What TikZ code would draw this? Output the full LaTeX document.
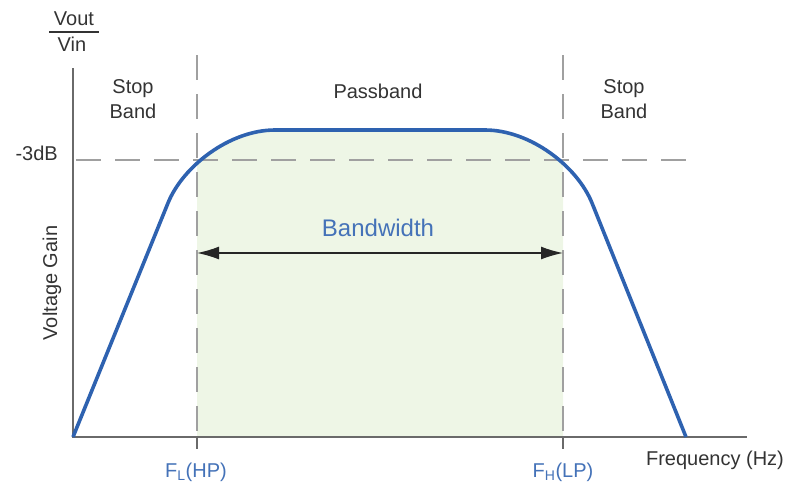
\documentclass[tikz,border=0pt]{standalone}
\usepackage{fontspec}
\setmainfont{Liberation Sans}
\usetikzlibrary{arrows.meta}
\definecolor{curveblue}{HTML}{2E62B0}
\definecolor{textblue}{HTML}{4472B8}
\definecolor{txt}{HTML}{333333}
\definecolor{axisgrey}{HTML}{6A6A6A}
\definecolor{dashgrey}{HTML}{A0A0A0}
\definecolor{passgreen}{HTML}{EEF6E6}
\tikzset{
  lbl/.style={font=\fontsize{20}{24}\selectfont, text=txt, inner sep=0pt},
  bluelbl/.style={font=\fontsize{20}{24}\selectfont, text=textblue, inner sep=0pt},
  guide/.style={draw=dashgrey, line width=1.4pt, dash pattern=on 25pt off 14pt},
  axisline/.style={draw=axisgrey, line width=1.5pt},
  response/.style={draw=curveblue, line width=3.6pt, line join=round},
}
\begin{document}
\begin{tikzpicture}[x=1pt,y=-1pt]
\useasboundingbox (0,0) rectangle (792,485);
% coordinates
\coordinate (O) at (73,437);
\coordinate (ytop) at (73,68);
\coordinate (xend) at (747,437);
\coordinate (fl) at (197,437);
\coordinate (fh) at (563,437);
\coordinate (fltop) at (197,55);
\coordinate (fhtop) at (563,55);
\coordinate (flbot) at (197,449);
\coordinate (fhbot) at (563,449);
\coordinate (dbl) at (73,160);
\coordinate (dbr) at (686,160);
\coordinate (bwl) at (197,253);
\coordinate (bwr) at (563,253);
% passband fill
\begin{scope}
\clip (197,0) rectangle (563,437);
\fill[passgreen] (73,437) -- (168,203) .. controls (183,166) and (230,130) .. (275,130) -- (485,130) .. controls (530,130) and (577,166) .. (592,203) -- (686,437) -- cycle;
\end{scope}
% guides
\draw[guide] (fltop) -- (fl);
\draw[guide] (fhtop) -- (fh);
\draw[draw=axisgrey, line width=1.4pt] (fl) -- (flbot);
\draw[draw=axisgrey, line width=1.4pt] (fh) -- (fhbot);
\draw[guide, dash phase=-3pt] (dbl) -- (dbr);
% axes
\draw[axisline] (ytop) -- (O) -- (xend);
% response curve
\draw[response] (O) -- (168,203) .. controls (183,166) and (230,130) .. (275,130) -- (485,130) .. controls (530,130) and (577,166) .. (592,203) -- (686,437);
% bandwidth arrow
\draw[draw=black!85, line width=1.5pt, {Latex[length=22pt,width=13pt]}-{Latex[length=22pt,width=13pt]}] (bwl) -- (bwr);
% labels
\node[lbl, anchor=base] (vout) at (74,25) {Vout};
\node[lbl, anchor=base] (vin) at (72,51) {Vin};
\draw[draw=txt, line width=1.3pt] (49,32) -- (99,32);
\node[lbl, anchor=base east] (db) at (58,160) {-3dB};
\node[lbl, anchor=base] (stop1) at (133,93) {Stop};
\node[lbl, anchor=base] (band1) at (133,118) {Band};
\node[lbl, anchor=base] (stop2) at (624,93) {Stop};
\node[lbl, anchor=base] (band2) at (624,118) {Band};
\node[lbl, anchor=base] (pass) at (378,98) {Passband};
\node[bluelbl, font=\fontsize{24}{28}\selectfont, anchor=base] (bw) at (378,236) {Bandwidth};
\node[lbl, rotate=90] (vg) at (52,283) {Voltage Gain};
\node[bluelbl, anchor=base] (flt) at (196,477) {F\textsubscript{L}(HP)};
\node[bluelbl, anchor=base] (fht) at (563,477) {F\textsubscript{H}(LP)};
\node[lbl, anchor=base] (freq) at (715,465) {Frequency (Hz)};
\end{tikzpicture}
\end{document}
